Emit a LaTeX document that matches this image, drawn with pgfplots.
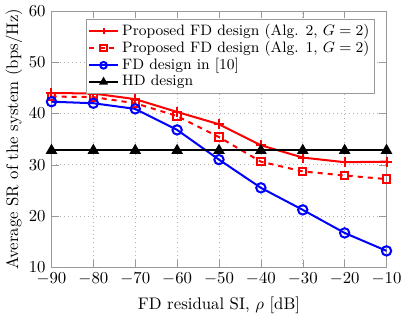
\documentclass[border=0pt]{standalone}
\usepackage{pgfplots}
\pgfplotsset{compat=1.18}
\begin{document}
\begin{tikzpicture}
\begin{axis}[
  scale only axis,
  width=200pt, height=153pt,
  xmin=-90, xmax=-10, ymin=10, ymax=60,
  xtick={-90,-80,...,-10},
  ytick={10,20,...,60},
  grid=major,
  major grid style={dotted, gray!60},
  axis line style={gray!80},
  tick style={gray!80},
  xlabel={FD residual SI, $\rho$ [dB]},
  ylabel={Average SR of the system (bps/Hz)},
  ylabel style={yshift=-3pt},
  legend style={at={(0.965,0.97)}, anchor=north east, font=\fontsize{9}{10.5}\selectfont, row sep=-2pt, inner sep=1pt, draw=gray!80},
  legend image post style={mark size=2pt},
  legend cell align=left,
]
\addplot[red, very thick, mark=+, mark size=3pt] coordinates {
(-90,44.0) (-80,43.9) (-70,42.8) (-60,40.3) (-50,37.9) (-40,33.8) (-30,31.4) (-20,30.5) (-10,30.6)};
\addlegendentry{Proposed FD design (Alg. 2, $G=2$)}
\addplot[red, very thick, dashed, mark=square, mark size=2.2pt, mark options={solid}] coordinates {
(-90,43.3) (-80,43.2) (-70,42.0) (-60,39.5) (-50,35.4) (-40,30.6) (-30,28.7) (-20,27.9) (-10,27.2)};
\addlegendentry{Proposed FD design (Alg. 1, $G=2$)}
\addplot[blue, very thick, mark=o, mark size=2.8pt] coordinates {
(-90,42.3) (-80,42.0) (-70,40.9) (-60,36.8) (-50,31.0) (-40,25.5) (-30,21.2) (-20,16.7) (-10,13.2)};
\addlegendentry{FD design in [10]}
\addplot[black, very thick, mark=triangle*, mark size=2.8pt] coordinates {
(-90,32.8) (-80,32.8) (-70,32.8) (-60,32.8) (-50,32.8) (-40,32.8) (-30,32.8) (-20,32.8) (-10,32.8)};
\addlegendentry{HD design}
\end{axis}
\end{tikzpicture}
\end{document}
